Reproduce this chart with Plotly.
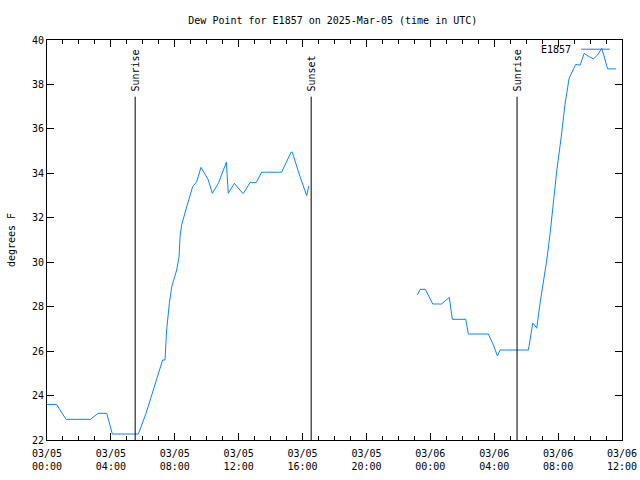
import plotly.graph_objects as go
import pandas as pd

# hours since 2025-03-05 00:00 UTC; None marks a gap
hours = [0.0, 0.6, 1.19, 2.73, 3.2, 3.74, 4.09, 5.72, 6.2, 6.91, 7.24, 7.39, 7.49, 7.66, 7.81,
         8.12, 8.27, 8.33, 8.43, 8.75, 9.12, 9.37, 9.64, 10.1, 10.35, 10.73, 11.23, 11.35,
         11.73, 12.25, 12.3, 12.71, 13.09, 13.44, 14.69, 15.28, 15.36, 15.84, 16.26, 16.39,
         None,
         23.19, 23.36, 23.69, 24.15, 24.71, 24.98, 25.19, 25.28, 25.38, 26.22, 26.38, 27.63,
         27.95, 28.2, 28.37, 30.14, 30.24, 30.41, 30.5, 30.66, 30.87, 31.08, 31.29, 31.5,
         31.64, 31.92, 32.17, 32.44, 32.69, 33.1, 33.38, 33.63, 33.94, 34.21, 34.48, 34.73,
         35.1, 35.63]
dewpoint = [23.6, 23.6, 22.93, 22.93, 23.2, 23.2, 22.27, 22.27, 23.2, 24.78, 25.6, 25.6, 26.95,
            28.15, 28.9, 29.65, 30.25, 31.15, 31.68, 32.5, 33.4, 33.62, 34.27, 33.7, 33.1,
            33.55, 34.5, 33.1, 33.55, 33.1, 33.1, 33.58, 33.58, 34.05, 34.05, 34.95, 34.95,
            33.85, 33.0, 33.43,
            None,
            28.53, 28.78, 28.78, 28.12, 28.12, 28.3, 28.42, 27.93, 27.43, 27.43, 26.77, 26.77,
            26.28, 25.78, 26.05, 26.05, 26.5, 27.25, 27.2, 27.03, 28.15, 29.05, 30.1, 31.3,
            32.35, 34.15, 35.5, 37.15, 38.28, 38.9, 38.87, 39.4, 39.25, 39.15, 39.33, 39.63,
            38.7, 38.7]

events = ["Sunrise", "Sunset", "Sunrise"]
event_hours = [5.52, 16.54, 29.43]
series_name = "E1857"

base = pd.Timestamp("2025-03-05 00:00")
times = [None if h is None else base + pd.Timedelta(hours=h) for h in hours]
event_times = [base + pd.Timedelta(hours=h) for h in event_hours]

FONT = "DejaVu Sans Mono"
FS = 10
COLOR = "#0a84ff"
fig = go.Figure()
fig.add_trace(go.Scatter(x=times, y=dewpoint, mode="lines", name=series_name,
                         line=dict(color=COLOR, width=1), connectgaps=False,
                         showlegend=False))

for t, name in zip(event_times, events):
    fig.add_shape(type="line", xref="x", yref="y", x0=t, x1=t, y0=22, y1=37.45,
                  line=dict(color="black", width=1))
    fig.add_annotation(x=t, y=37.6, xref="x", yref="y", text=name, textangle=-90,
                       showarrow=False, xanchor="center", yanchor="bottom",
                       font=dict(family=FONT, size=FS, color="black"))

# key (gnuplot style: label then line sample)
fig.add_annotation(x=0.915, y=0.977, xref="paper", yref="paper", text=series_name,
                   showarrow=False, xanchor="right", yanchor="middle",
                   font=dict(family=FONT, size=FS, color="black"))
fig.add_shape(type="line", xref="paper", yref="paper", x0=0.929, x1=0.979, y0=0.977, y1=0.977,
              line=dict(color=COLOR, width=1))

fig.update_layout(
    width=640, height=480,
    margin=dict(l=47, r=18, t=40, b=40),
    paper_bgcolor="white", plot_bgcolor="white",
    font=dict(family=FONT, size=FS, color="black"),
    title=dict(text="Dew Point for E1857 on 2025-Mar-05 (time in UTC)", x=0.52, xanchor="center",
               y=0.958, yanchor="middle", font=dict(family=FONT, size=FS)),
    showlegend=False,
)
fig.update_xaxes(
    type="date",
    range=[base, base + pd.Timedelta(hours=36)],
    dtick=4 * 3600000, tick0=base,
    tickformat="%m/%d<br>%H:%M",
    ticks="inside", ticklen=7, tickcolor="black",
    minor=dict(dtick=3600000, ticks="inside", ticklen=4, tickcolor="black"),
    showline=True, linecolor="black", linewidth=1, mirror="allticks",
    showgrid=False, zeroline=False, automargin=False, ticklabelstandoff=4,
    tickfont=dict(family=FONT, size=FS),
)
fig.update_yaxes(
    range=[22, 40], dtick=2,
    ticks="inside", ticklen=7, tickcolor="black",
    showline=True, linecolor="black", linewidth=1, mirror="allticks",
    showgrid=False, zeroline=False, automargin=False,
    title=dict(text="degrees F", font=dict(family=FONT, size=FS), standoff=14),
    tickfont=dict(family=FONT, size=FS),
)

fig.write_html("out.html")
